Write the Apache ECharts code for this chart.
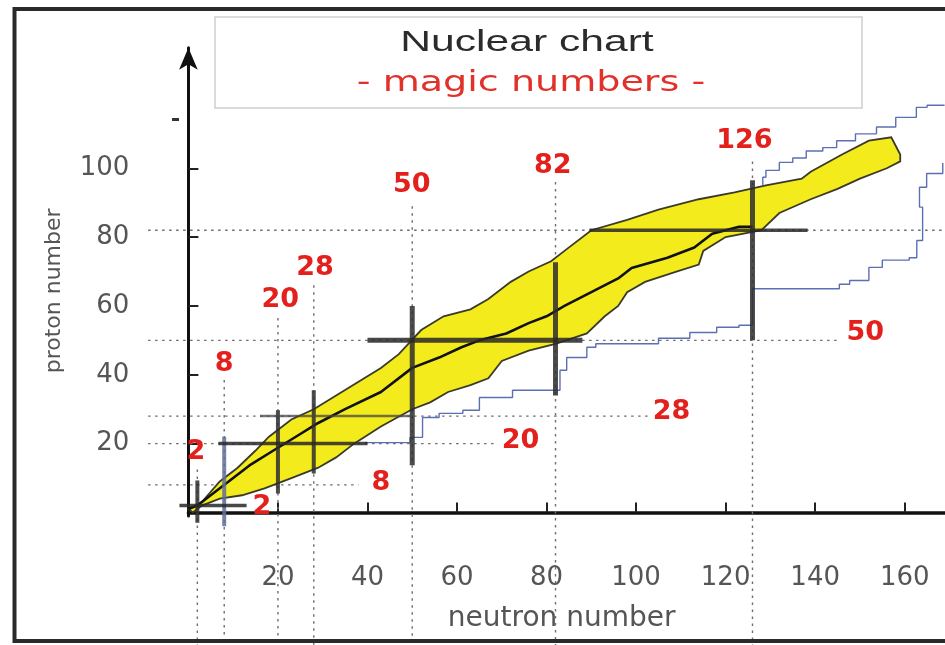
<!DOCTYPE html>
<html><head><meta charset="utf-8">
<script src="https://cdn.jsdelivr.net/npm/echarts@6/dist/echarts.min.js"></script>
<style>html,body{margin:0;padding:0;background:#fff}#c{width:945px;height:645px}</style>
</head><body><div id="c"></div>
<script>
// ---- tick labels ----
const xTicks = [20, 40, 60, 80, 100, 120, 140, 160];
const yTicks = [20, 40, 60, 80, 100];

// ---- magic numbers ----
const magicN = [2, 8, 20, 28, 50, 82, 126];
const magicZ = [2, 8, 20, 28, 50, 82];

// dotted guide extents
const nGuideTopZ = [12.5, 38.5, 56.5, 66, 89, 96, 102];
const guideBottomZ = -40;
const guideLeftN = -9;
const zGuideEndN = [null, 38, 69, 103, 145, 169];

// thick bars across the valley of stability
const nBarZ = [[-3, 9.3], [-4, 22], [5.5, 29.7], [11.3, 35.5], [13.7, 60], [34, 72.7], [50, 96.5]];
const zBarN = [[-2, 13], null, [6.7, 40], [16, 50], [40, 88], [89.6, 138.3]];

// label anchors (N, Z)
const topLabelPos = [[1.7, 17.6], [8, 43.2], [20.5, 61.7], [28.3, 71], [49.9, 95.1], [81.4, 100.7], [124.2, 107.9]];
const sideLabelPos = [[16.4, 1.6], [43, 8.6], [74.2, 20.8], [107.9, 29.2], [151.2, 52.1]];

// ---- known nuclides band (N, Z) ----
const bandUpper = [[0,1],[3,3],[7,9],[11,13],[15,18],[18,22],[23,27],[28,30],[33,34],[38,38],[43,42],[47,46],[52,53],[57,57],[63,59],[67,62],[72,67],[76,70],[81,73],[84,76],[90,82],[98,85],[105,88],[114,91],[122,93],[129,95],[137,97],[139,99],[146,104],[152,108],[157,109],[159,104]];
const bandLower = [[1,0],[3,2],[7,4],[12,5],[17,7],[23,10],[29,13],[33,16],[37,20],[43,25],[50,30],[54,32],[58,35],[63,37],[67,39],[70,44],[76,47],[82,49],[89,52],[93,57],[96,60],[98,64],[102,67],[109,70],[114,72],[115,76],[120,80],[128,82],[132,87],[139,91],[145,94],[150,97],[156,100],[159,102]];

// ---- stable nuclei (N, Z) ----
const stableLine = [[0,1],[2,2],[6,6],[10,10],[14,14],[19,18],[24,22],[29,26],[35,30],[43,35],[50,42],[56,45],[61,48],[65,50],[71,52],[76,55],[80,57],[84,60],[90,64],[96,68],[99,71],[107,74],[113,77],[117,81],[123,83],[126,83]];

// ---- drip lines (N, Z) ----
const dripLow = [[39.4,20.3],[49.5,21.8],[52.3,27.6],[56,28.8],[61.3,29.7],[65,33.4],[72.4,35.5],[78.5,35.5],[83,41.3],[84.5,45],[89,48],[91,49],[105,50.6],[112,52.3],[118,53.8],[123,54.4],[126,65],[145.4,66.3],[147.7,67.4],[152,71.2],[155,73.3],[161,74],[162.7,79],[164,84],[164,88.7],[163.3,94.5],[164.9,98.5],[168.5,101.5]];
const dripHigh = [[128.3,95],[129,97.4],[132,99.4],[135,101.7],[138,103],[141.7,105],[144.8,106],[149,108],[153.7,110],[158,112],[162.6,114.8],[165,117.7],[168.9,118.3]];

// ---------------------------------------------------------------
const bandOutline = bandUpper.concat(bandLower.slice().reverse());

const guideData = [];
magicN.forEach((n, i) => guideData.push([n, nGuideTopZ[i], n, guideBottomZ]));
magicZ.forEach((z, i) => { if (zGuideEndN[i] != null) guideData.push([guideLeftN, z, zGuideEndN[i], z]); });

const nBarData = magicN.map((n, i) => [n, nBarZ[i][0], n, nBarZ[i][1]]);
const zBarData = [];
magicZ.forEach((z, i) => { if (zBarN[i]) zBarData.push([zBarN[i][0], z, zBarN[i][1], z, i]); });

const labelData = magicN.map((n, i) => ({ name: String(n), value: topLabelPos[i] }))
  .concat(sideLabelPos.map((p, i) => ({ name: String(magicZ[i]), value: p })));

function segRender(styleFn) {
  return function (params, api) {
    const a = api.coord([api.value(0), api.value(1)]);
    const b = api.coord([api.value(2), api.value(3)]);
    return { type: 'line', shape: { x1: a[0], y1: a[1], x2: b[0], y2: b[1] }, style: styleFn(params.dataIndex, api) };
  };
}

const chart = echarts.init(document.getElementById('c'), null, { renderer: 'canvas' });
const labelFont = 'DejaVu Sans';
chart.setOption({
  animation: false,
  backgroundColor: '#ffffff',
  grid: { left: 188.4, top: 47.8, width: 757.1, height: 468.1, containLabel: false },
  xAxis: {
    type: 'value', min: 0, max: 169, offset: 34,
    splitLine: { show: false },
    axisLine: { lineStyle: { color: '#111', width: 3.5 } },
    axisTick: { inside: true, length: 10, customValues: xTicks, lineStyle: { color: '#222', width: 2 } },
    axisLabel: { customValues: xTicks, color: '#555', fontSize: 26, fontFamily: labelFont, margin: 15 },
    name: 'neutron number', nameLocation: 'middle', nameGap: 55,
    nameTextStyle: { color: '#555', fontSize: 28, fontFamily: labelFont, padding: [0, 10, 0, 0] }
  },
  yAxis: {
    type: 'value', min: -1, max: 135, offset: 42,
    splitLine: { show: false },
    axisLine: { symbol: ['none', 'arrow'], symbolSize: [14, 22], lineStyle: { color: '#111', width: 3 } },
    axisTick: { inside: true, length: 10, customValues: yTicks, lineStyle: { color: '#222', width: 2 } },
    axisLabel: { customValues: yTicks, color: '#555', fontSize: 26, fontFamily: labelFont, margin: 17 },
    name: 'proton number', nameLocation: 'middle', nameGap: 81, nameRotate: 90,
    nameTextStyle: { color: '#555', fontSize: 22, fontFamily: labelFont, padding: [0, 18, 0, 0] }
  },
  graphic: [
    { type: 'rect', z: 100, shape: { x: 14.5, y: 9, width: 1000, height: 632 }, style: { fill: 'none', stroke: '#2a2a2a', lineWidth: 4 } },
    { type: 'rect', z: 100, shape: { x: 215, y: 17, width: 647, height: 91 }, style: { fill: '#fff', stroke: '#cfcfcf', lineWidth: 1.5 } },
    { type: 'text', z: 101, x: 527, y: 43, scaleX: 1.42, style: { text: 'Nuclear chart', x: 0, y: 0, align: 'center', verticalAlign: 'middle', fill: '#2b2b2b', fontSize: 30, fontFamily: 'Liberation Sans' } },
    { type: 'text', z: 101, x: 531, y: 84, scaleX: 1.36, style: { text: '- magic numbers -', x: 0, y: 0, align: 'center', verticalAlign: 'middle', fill: '#e0312b', fontSize: 28, fontFamily: 'Comic Sans MS, DejaVu Sans' } },
    { type: 'rect', z: 100, shape: { x: 172, y: 118, width: 7, height: 3 }, style: { fill: '#333' } }
  ],
  series: [
    {
      type: 'custom', name: 'guides', z: 1, clip: false,
      encode: { x: [0, 2], y: [1, 3] },
      data: guideData,
      renderItem: segRender(() => ({ stroke: '#6e6e6e', lineWidth: 1.4, lineDash: [2.5, 4.5] }))
    },
    {
      type: 'custom', name: 'known nuclei', z: 2, clip: false,
      data: [[0, 0]],
      renderItem: function (params, api) {
        const pts = bandOutline.map(p => api.coord(p));
        return { type: 'polygon', shape: { points: pts }, style: { fill: '#f3eb1b', stroke: '#3a3a2a', lineWidth: 1.8 } };
      }
    },
    {
      type: 'line', name: 'drip low', z: 3, step: 'end', showSymbol: false, symbol: 'none',
      data: dripLow, lineStyle: { color: '#5d6fb3', width: 1.4 }
    },
    {
      type: 'line', name: 'drip high', z: 3, step: 'start', showSymbol: false, symbol: 'none',
      data: dripHigh, lineStyle: { color: '#5d6fb3', width: 1.4 }
    },
    {
      type: 'line', name: 'stable', z: 4, showSymbol: false, symbol: 'none',
      data: stableLine, lineStyle: { color: '#111', width: 2.6 }
    },
    {
      type: 'custom', name: 'N bars', z: 5, clip: false,
      encode: { x: [0, 2], y: [1, 3] },
      data: nBarData,
      renderItem: segRender((i) => ({ stroke: i === 1 ? 'rgba(95,110,150,0.85)' : 'rgba(45,45,45,0.85)', lineWidth: i >= 4 ? 5 : 4 }))
    },
    {
      type: 'custom', name: 'Z bars', z: 5, clip: false,
      encode: { x: [0, 2], y: [1, 3] },
      data: zBarData,
      renderItem: segRender((i, api) => {
        const k = api.value(4);
        return { stroke: k === 3 ? 'rgba(70,70,70,0.75)' : 'rgba(40,40,40,0.85)', lineWidth: k === 4 ? 5 : (k === 3 ? 2.5 : 3.5) };
      })
    },
    {
      type: 'scatter', name: 'labels', z: 6, symbolSize: 1, itemStyle: { color: 'rgba(0,0,0,0)', opacity: 1 },
      data: labelData,
      label: { show: true, position: 'inside', formatter: '{b}', color: '#e3201b', opacity: 1, fontSize: 27, fontWeight: 'bold', fontFamily: labelFont }
    }
  ]
});
</script>
</body></html>
